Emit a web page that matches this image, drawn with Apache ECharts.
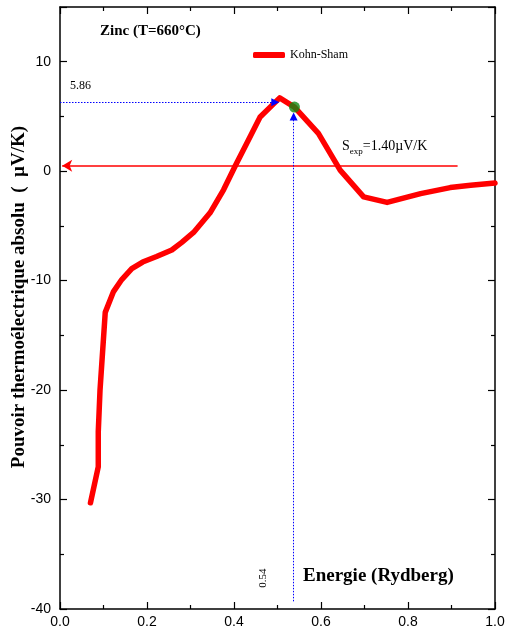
<!DOCTYPE html>
<html>
<head>
<meta charset="utf-8">
<script src="https://cdn.jsdelivr.net/npm/echarts@6/dist/echarts.min.js"></script>
<style>
  html, body { margin: 0; padding: 0; background: #fff; }
  #main { width: 510px; height: 634px; }
</style>
</head>
<body>
<div id="main"></div>
<script>
// energie (Rydberg) et pouvoir thermoelectrique (uV/K)
const energie = [0.070, 0.088, 0.088, 0.092, 0.104, 0.123, 0.142, 0.165, 0.190, 0.222, 0.257,
  0.280, 0.307, 0.345, 0.376, 0.403, 0.430, 0.460, 0.505, 0.539, 0.594, 0.644, 0.698,
  0.752, 0.829, 0.897, 0.944, 1.000];
const seebeck = [-30.3, -27.0, -23.8, -20.0, -12.9, -11.0, -9.9, -8.9, -8.3, -7.8, -7.2,
  -6.5, -5.6, -3.8, -1.7, 0.5, 2.6, 4.95, 6.7, 5.86, 3.45, 0.1, -2.35,
  -2.85, -2.05, -1.5, -1.28, -1.07];

const pointMax = [0.539, 5.86];   // point marque (vert)
const sExp = 0.5;                 // ligne rouge S_exp
const xTicks = [0, 1, 0.2];       // min, max, pas
const yTicks = [-40, 15, 10];

const serif = '"Liberation Serif", "Times New Roman", serif';
const sans = '"Liberation Sans", Arial, sans-serif';

const chart = echarts.init(document.getElementById('main'));

const axisCommon = {
  axisLine: { show: true, onZero: false, lineStyle: { color: '#000', width: 1.5 } },
  axisTick: { inside: true, length: 7, lineStyle: { color: '#000', width: 1.2 } },
  minorTick: { show: true, splitNumber: 2, length: 4, lineStyle: { color: '#000', width: 1.2 } },
  splitLine: { show: false }
};

const data = energie.map((x, i) => [x, seebeck[i]]);

chart.setOption({
  animation: false,
  grid: { left: 60, right: 15, top: 7, bottom: 25 },
  legend: {
    left: 248, top: 44,
    itemWidth: 32, itemHeight: 6, icon: 'roundRect',
    textStyle: { fontFamily: serif, fontSize: 12, color: '#000' },
    data: ['Kohn-Sham']
  },
  xAxis: [
    Object.assign({}, axisCommon, {
      type: 'value', min: xTicks[0], max: xTicks[1], interval: xTicks[2], position: 'bottom',
      axisLabel: { fontFamily: sans, fontSize: 14, color: '#000', margin: 6,
        formatter: v => v.toFixed(1) }
    }),
    Object.assign({}, axisCommon, {
      type: 'value', min: xTicks[0], max: xTicks[1], interval: xTicks[2], position: 'top',
      axisLabel: { show: false }
    })
  ],
  yAxis: [
    Object.assign({}, axisCommon, {
      type: 'value', min: yTicks[0], max: yTicks[1], interval: yTicks[2], position: 'left',
      axisLabel: { fontFamily: sans, fontSize: 14, color: '#000', margin: 9, showMaxLabel: false }
    }),
    Object.assign({}, axisCommon, {
      type: 'value', min: yTicks[0], max: yTicks[1], interval: yTicks[2], position: 'right',
      axisLabel: { show: false }
    })
  ],
  series: [
    {
      name: 'Kohn-Sham', type: 'line', data: data,
      showSymbol: false, symbol: 'none',
      lineStyle: { color: '#ff0000', width: 5.5, cap: 'round', join: 'round' },
      itemStyle: { color: '#ff0000' },
      markLine: {
        silent: true, symbol: ['none', 'arrow'], symbolSize: [9, 10],
        lineStyle: { color: '#ff0000', width: 1.5, type: 'solid' },
        label: { show: false },
        data: [[{ coord: [0.914, sExp] }, { coord: [0.005, sExp] }]]
      }
    },
    {
      name: 'point', type: 'scatter', data: [pointMax],
      symbolSize: 11, itemStyle: { color: '#118811' }, z: 5,
      markLine: {
        silent: true, symbol: ['none', 'triangle'], symbolSize: [8, 8],
        lineStyle: { color: '#0000ff', width: 1, type: [1.5, 1.5] },
        label: { show: false },
        data: [
          [{ coord: [0, 6.3] }, { coord: [0.495, 6.3] }],
          [{ coord: [0.537, -39.3] }, { coord: [0.537, 5.0] }]
        ]
      }
    }
  ],
  graphic: [
    { type: 'text', left: 100, top: 24,
      style: { text: 'Zinc (T=660°C)', font: 'bold 15px ' + serif, fill: '#000' } },
    { type: 'text', left: 70, top: 80,
      style: { text: '5.86', font: '12px ' + serif, fill: '#000' } },
    { type: 'text', left: 342, top: 139,
      style: {
        text: '{a|S}{b|exp}{a|=1.40µV/K}',
        rich: {
          a: { fontFamily: serif, fontSize: 14, fill: '#000', padding: [0, 0, 4, 0] },
          b: { fontFamily: serif, fontSize: 9, fill: '#000', padding: [8, 0, 0, 0] }
        }
      } },
    { type: 'text', x: 263, y: 578, rotation: Math.PI / 2,
      style: { text: '0.54', font: '11px ' + serif, fill: '#000', align: 'center', verticalAlign: 'middle' } },
    { type: 'text', left: 303, top: 567,
      style: { text: 'Energie (Rydberg)', font: 'bold 19px ' + serif, fill: '#000' } },
    { type: 'text', x: 19, y: 297, rotation: Math.PI / 2,
      style: { text: 'Pouvoir thermoélectrique absolu  (  µV/K)', font: 'bold 19px ' + serif,
        fill: '#000', align: 'center', verticalAlign: 'middle' } }
  ]
});
</script>
</body>
</html>
